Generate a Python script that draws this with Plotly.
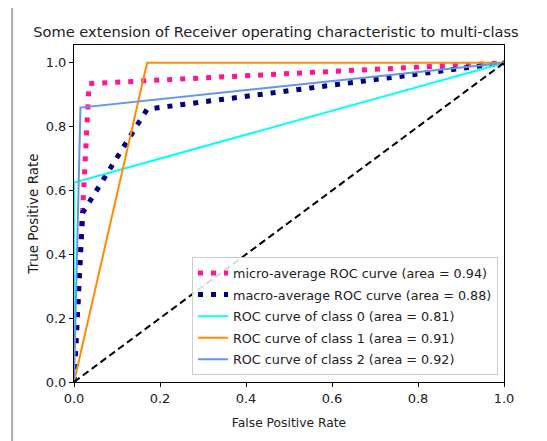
import plotly.graph_objects as go

# Data
micro_fpr = [0.0, 0.035, 1.0]
micro_tpr = [0.0, 0.935, 1.0]
macro_fpr = [0.0, 0.02, 0.17, 1.0]
macro_tpr = [0.0, 0.53, 0.855, 1.0]
c0_fpr = [0.0, 0.0, 1.0]
c0_tpr = [0.0, 0.625, 1.0]
c1_fpr = [0.0, 0.17, 1.0]
c1_tpr = [0.0, 1.0, 1.0]
c2_fpr = [0.0, 0.015, 1.0]
c2_tpr = [0.0, 0.86, 1.0]
diag = [0.0, 1.0]
tick_vals = [0.0, 0.2, 0.4, 0.6, 0.8, 1.0]
tick_text = ["0.0", "0.2", "0.4", "0.6", "0.8", "1.0"]

names = [
    "micro-average ROC curve (area = 0.94)",
    "macro-average ROC curve (area = 0.88)",
    "ROC curve of class 0 (area = 0.81)",
    "ROC curve of class 1 (area = 0.91)",
    "ROC curve of class 2 (area = 0.92)",
]

FONT = "DejaVu Sans"
TXT = "#222222"
fig = go.Figure()
fig.add_trace(go.Scatter(x=micro_fpr, y=micro_tpr, mode="lines", name=names[0], legendgroup="a",
                         line=dict(color="deeppink", width=5, dash="5px,8px")))
fig.add_trace(go.Scatter(x=macro_fpr, y=macro_tpr, mode="lines", name=names[1], legendgroup="b",
                         line=dict(color="navy", width=5, dash="5px,8px")))
fig.add_trace(go.Scatter(x=c0_fpr, y=c0_tpr, mode="lines", name=names[2], legendgroup="c",
                         line=dict(color="aqua", width=2)))
fig.add_trace(go.Scatter(x=c1_fpr, y=c1_tpr, mode="lines", name=names[3], legendgroup="d",
                         line=dict(color="darkorange", width=2)))
fig.add_trace(go.Scatter(x=c2_fpr, y=c2_tpr, mode="lines", name=names[4], legendgroup="e",
                         line=dict(color="cornflowerblue", width=2)))
fig.add_trace(go.Scatter(x=diag, y=diag, mode="lines", showlegend=False,
                         line=dict(color="black", width=2, dash="7px,4px")))

axis_common = dict(showgrid=False, zeroline=False, showline=True, linecolor="black",
                   linewidth=1, mirror=True, ticks="outside", ticklen=4,
                   tickcolor="black", tickfont=dict(family=FONT, size=13, color=TXT),
                   tickvals=tick_vals, ticktext=tick_text)
fig.update_xaxes(range=[0, 1.0],
                 title=dict(text="False Positive Rate", font=dict(family=FONT, size=12.3, color=TXT), standoff=13),
                 **axis_common)
fig.update_yaxes(range=[0, 1.056],
                 title=dict(text="True Positive Rate", font=dict(family=FONT, size=13.5, color=TXT), standoff=3),
                 **axis_common)

fig.update_layout(
    width=547, height=441,
    margin=dict(l=66, r=51, t=37, b=67),
    paper_bgcolor="white", plot_bgcolor="white",
    title=dict(text="Some extension of Receiver operating characteristic to multi-class",
               font=dict(family=FONT, size=14.6, color=TXT),
               x=0.49, xanchor="center", y=0.946, yanchor="middle"),
    legend=dict(x=0.986, y=0.02, xanchor="right", yanchor="bottom", tracegroupgap=2,
                bgcolor="rgba(255,255,255,0.85)", bordercolor="#cccccc", borderwidth=1,
                font=dict(family=FONT, size=12.75, color=TXT)),
    shapes=[dict(type="line", xref="paper", yref="paper", x0=-0.144, x1=-0.144, y0=-0.25, y1=1.2,
                 line=dict(color="#aaaaaa", width=2))],
)
fig.write_html("out.html")
